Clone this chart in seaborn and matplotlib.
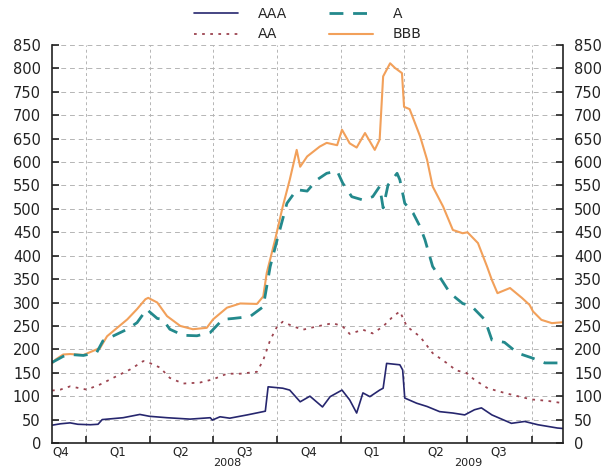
import matplotlib
matplotlib.use("Agg")
import matplotlib.pyplot as plt
import matplotlib.dates as mdates
import matplotlib.ticker as mticker
import matplotlib.transforms as mtransforms
import seaborn as sns
import pandas as pd
import numpy as np

# ---------------- data (spreads, bp) ----------------
aaa_dates = ['2007-11-13', '2007-11-25', '2007-12-09', '2007-12-20', '2008-01-07', '2008-01-18', '2008-01-24',
             '2008-02-23', '2008-03-18', '2008-04-01', '2008-04-26', '2008-05-29', '2008-06-27', '2008-06-30',
             '2008-07-11', '2008-07-25', '2008-08-19', '2008-09-11', '2008-09-14', '2008-09-18', '2008-10-09',
             '2008-10-19', '2008-11-03', '2008-11-17', '2008-12-05', '2008-12-16', '2009-01-02', '2009-01-13',
             '2009-01-23', '2009-02-01', '2009-02-11', '2009-02-25', '2009-03-02', '2009-03-07', '2009-03-26',
             '2009-03-30', '2009-04-02', '2009-04-19', '2009-05-04', '2009-05-22', '2009-06-10', '2009-06-27',
             '2009-07-11', '2009-07-21', '2009-08-05', '2009-09-02', '2009-09-21', '2009-10-10', '2009-11-07',
             '2009-11-15']
aaa_vals = [38, 41, 43, 40, 39, 40, 50,
            54, 61, 57, 54, 51, 54, 49,
            56, 53, 60, 67, 68, 120, 117,
            113, 88, 100, 77, 99, 113, 92,
            64, 107, 99, 113, 117, 170, 167,
            156, 96, 85, 78, 67, 64, 60,
            71, 75, 60, 42, 46, 39, 32,
            31]

a_dates = ['2007-11-13', '2007-11-29', '2007-12-09', '2007-12-28', '2008-01-16', '2008-01-25', '2008-02-29',
           '2008-03-14', '2008-03-28', '2008-04-01', '2008-04-12', '2008-04-20', '2008-04-30', '2008-05-19',
           '2008-06-08', '2008-06-27', '2008-07-15', '2008-07-30', '2008-08-23', '2008-09-11', '2008-09-21',
           '2008-10-01', '2008-10-15', '2008-10-29', '2008-11-13', '2008-11-27', '2008-12-11', '2008-12-26',
           '2009-01-03', '2009-01-16', '2009-02-01', '2009-02-15', '2009-02-25', '2009-03-02', '2009-03-09',
           '2009-03-22', '2009-03-26', '2009-04-02', '2009-04-14', '2009-04-24', '2009-05-01', '2009-05-12',
           '2009-05-25', '2009-06-06', '2009-06-24', '2009-07-07', '2009-07-26', '2009-08-05', '2009-08-23',
           '2009-09-11', '2009-10-01', '2009-10-20', '2009-11-15']
a_vals = [172, 185, 189, 187, 193, 218, 243,
          257, 286, 280, 266, 264, 243, 230,
          229, 236, 264, 266, 270, 291, 377,
          434, 512, 541, 538, 562, 576, 581,
          555, 526, 519, 526, 548, 502, 551,
          576, 562, 512, 491, 462, 434, 377,
          348, 320, 298, 292, 263, 220, 215,
          192, 182, 171, 171]

aa_dates = ['2007-11-13', '2007-11-25', '2007-12-09', '2008-01-02', '2008-01-21', '2008-02-14', '2008-03-04',
            '2008-03-23', '2008-04-01', '2008-04-16', '2008-04-30', '2008-05-19', '2008-06-12', '2008-07-01',
            '2008-07-21', '2008-08-09', '2008-09-02', '2008-09-11', '2008-09-21', '2008-10-01', '2008-10-09',
            '2008-10-24', '2008-11-07', '2008-11-27', '2008-12-20', '2009-01-03', '2009-01-13', '2009-02-01',
            '2009-02-15', '2009-03-02', '2009-03-16', '2009-03-26', '2009-04-05', '2009-04-24', '2009-05-12',
            '2009-06-01', '2009-06-15', '2009-06-29', '2009-07-11', '2009-07-30', '2009-08-23', '2009-09-11',
            '2009-10-01', '2009-10-24', '2009-11-15']
aa_vals = [112, 114, 121, 114, 125, 143, 157,
           175, 171, 161, 139, 127, 129, 136,
           148, 148, 152, 177, 220, 249, 259,
           249, 242, 249, 256, 249, 233, 242,
           234, 249, 270, 281, 249, 227, 192,
           171, 155, 150, 135, 117, 107, 100,
           93, 90, 85]

bbb_dates = ['2007-11-13', '2007-11-18', '2007-11-29', '2007-12-09', '2007-12-28', '2008-01-21', '2008-01-31',
             '2008-02-29', '2008-03-14', '2008-03-26', '2008-03-30', '2008-04-12', '2008-04-26', '2008-05-15',
             '2008-06-02', '2008-06-22', '2008-07-01', '2008-07-21', '2008-08-09', '2008-09-02', '2008-09-11',
             '2008-09-16', '2008-09-28', '2008-10-09', '2008-10-19', '2008-10-29', '2008-11-03', '2008-11-13',
             '2008-12-01', '2008-12-11', '2008-12-26', '2009-01-02', '2009-01-13', '2009-01-23', '2009-02-04',
             '2009-02-18', '2009-02-25', '2009-03-02', '2009-03-12', '2009-03-19', '2009-03-29', '2009-04-01',
             '2009-04-09', '2009-04-24', '2009-05-04', '2009-05-12', '2009-05-27', '2009-06-10', '2009-06-24',
             '2009-07-01', '2009-07-16', '2009-07-29', '2009-08-05', '2009-08-13', '2009-08-31', '2009-09-17',
             '2009-09-28', '2009-10-03', '2009-10-15', '2009-10-30', '2009-11-15']
bbb_vals = [170, 178, 189, 190, 188, 203, 228,
            264, 286, 307, 310, 300, 271, 250,
            243, 246, 264, 289, 298, 297, 313,
            363, 434, 505, 562, 626, 590, 612,
            633, 641, 636, 669, 640, 631, 662,
            626, 648, 783, 811, 801, 790, 718,
            713, 655, 605, 548, 505, 455, 448,
            450, 427, 377, 348, 320, 331, 310,
            295, 281, 263, 256, 258]

series_names = ['AAA', 'AA', 'A', 'BBB']
series_colors = {'AAA': '#26266e', 'A': '#23898c', 'AA': '#9c4450', 'BBB': '#f2a05a'}

quarter_bounds = ['2008-01-01', '2008-04-01', '2008-07-01', '2008-10-01',
                  '2009-01-01', '2009-04-01', '2009-07-01', '2009-10-01']
quarter_labels = ['Q4', 'Q1', 'Q2', 'Q3', 'Q4', 'Q1', 'Q2', 'Q3']
quarter_label_dates = ['2007-11-25', '2008-02-15', '2008-05-16', '2008-08-15',
                       '2008-11-15', '2009-02-14', '2009-05-16', '2009-08-15']
year_labels = ['2008', '2009']
year_label_dates = ['2008-07-22', '2009-07-02']
y_ticks = list(range(0, 851, 50))

# ---------------- build frame ----------------
frames = []
for name, d, v in [('AAA', aaa_dates, aaa_vals), ('A', a_dates, a_vals),
                   ('AA', aa_dates, aa_vals), ('BBB', bbb_dates, bbb_vals)]:
    frames.append(pd.DataFrame({'date': pd.to_datetime(d), 'value': v, 'rating': name}))
df = pd.concat(frames, ignore_index=True)

sns.set_theme(style='white')
plt.rcParams['font.family'] = ['DejaVu Sans']

fig = plt.figure(figsize=(6.06, 4.71), dpi=100)
ax = fig.add_axes([52 / 606, 28 / 471, (563 - 52) / 606, (443 - 45) / 471])

styles = {
    'AAA': dict(lw=1.2, dashes=None),
    'A': dict(lw=2.0, dashes=(5, 3.5)),
    'AA': dict(lw=1.3, dashes=(1.5, 3)),
    'BBB': dict(lw=1.5, dashes=None),
}
handles = {}
for name in ['BBB', 'A', 'AA', 'AAA']:
    sub = df[df['rating'] == name]
    sns.lineplot(data=sub, x='date', y='value', ax=ax, color=series_colors[name],
                 linewidth=styles[name]['lw'], label=name, legend=False)
    line = ax.lines[-1]
    if styles[name]['dashes'] is not None:
        line.set_dashes(styles[name]['dashes'])
    handles[name] = line

ax.set_xlim(pd.Timestamp('2007-11-13'), pd.Timestamp('2009-11-15'))
ax.set_ylim(0, 850)
ax.set_yticks(y_ticks)
ax.set_xlabel('')
ax.set_ylabel('')

# x ticks: labels at mid quarter (major, no tick mark), boundaries as minor with grid
ax.xaxis.set_major_locator(mticker.FixedLocator(mdates.date2num(pd.to_datetime(quarter_label_dates))))
ax.xaxis.set_major_formatter(mticker.FixedFormatter(quarter_labels))
ax.xaxis.set_minor_locator(mticker.FixedLocator(mdates.date2num(pd.to_datetime(quarter_bounds))))
ax.tick_params(axis='x', which='major', length=0, pad=2, labelsize=8.5, colors='#222222')
ax.tick_params(axis='x', which='minor', length=5, width=1.2, direction='in', color='#222222', bottom=True)
ax.tick_params(axis='y', which='major', direction='in', length=5, width=1.2, left=True, right=True,
               labelleft=True, labelright=True, labelsize=10.5, pad=8, colors='#222222')

ax.grid(False)
ax.xaxis.grid(True, which='minor', linestyle=(0, (3, 3)), color='#b5b5b5', linewidth=0.7)
ax.yaxis.grid(True, which='major', linestyle=(0, (5, 4)), color='#b5b5b5', linewidth=0.7)
ax.set_axisbelow(True)

for side in ['left', 'right', 'bottom']:
    ax.spines[side].set_visible(True)
    ax.spines[side].set_color('#222222')
    ax.spines[side].set_linewidth(1.2)
ax.spines['top'].set_visible(False)

# year labels
trans = mtransforms.blended_transform_factory(ax.transData, ax.transAxes)
for lab, d in zip(year_labels, year_label_dates):
    ax.text(mdates.date2num(pd.Timestamp(d)), -0.049, lab, transform=trans, ha='center', va='center',
            fontsize=8, color='#222222')

leg = ax.legend([handles[n] for n in series_names], series_names, ncol=2, loc='lower center',
                bbox_to_anchor=(0.5, 0.995), frameon=False, fontsize=10, handlelength=3.2,
                columnspacing=3.0, handletextpad=1.4, labelspacing=0.45, borderaxespad=0.0)

fig.savefig('out.png', dpi=100, facecolor='white')
